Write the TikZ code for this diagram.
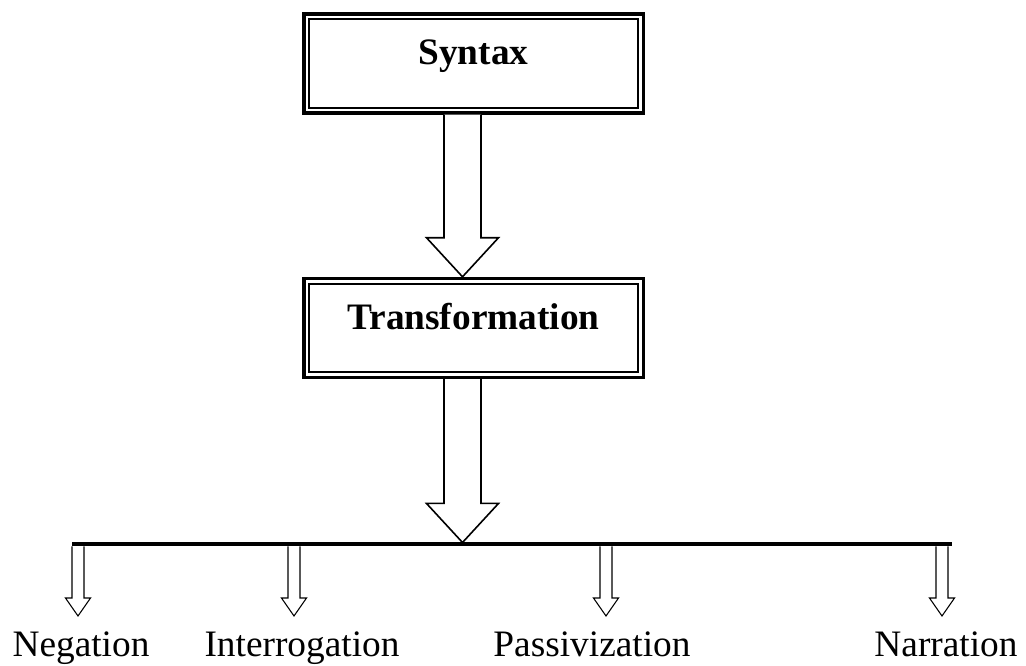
\documentclass[tikz,border=0pt]{standalone}
\usepackage{fontspec}
\setmainfont{Liberation Serif}
\usetikzlibrary{calc,positioning}

\tikzset{
    dblbox/.style={draw, line width=2.6pt, inner sep=0pt, minimum width=254.6pt,
        text height=38pt, text depth=36.2pt, font=\fontsize{28}{32}\selectfont\bfseries},
    bigarr/.style={draw, fill=white, line width=1.2pt, line join=miter},
    smallarr/.style={draw, fill=white, line width=0.8pt, line join=miter},
    leaf/.style={anchor=base, inner sep=0pt, font=\fontsize{28}{32}\selectfont}
}
\newcommand{\hollowarrow}[6]{%
    \draw[#6] let \p1=(#1), \p2=(#2) in
        ({\x2-#3},{\y1}) -- ({\x2-#3},{\y2+#5}) -- ({\x2-#4},{\y2+#5}) -- (\x2,\y2)
        -- ({\x2+#4},{\y2+#5}) -- ({\x2+#3},{\y2+#5}) -- ({\x2+#3},{\y1});
}

\begin{document}
\begin{tikzpicture}[x=0.75pt,y=-0.75pt]
    \useasboundingbox (0,0) rectangle (1026,666);

    \node[dblbox] (syn) at (473.5,63.5) {Syntax};
    \node[dblbox] (trans) at (473.5,328) {Transformation};
    \foreach \b in {syn,trans}
        \draw[line width=1.5pt] ([shift={(5.2pt,-5.2pt)}]\b.north west)
            rectangle ([shift={(-5.2pt,5.2pt)}]\b.south east);

    \coordinate (ax) at (462.5,0);
    \coordinate (barL) at (72,544.5);
    \coordinate (barR) at (952,544.5);
    \coordinate (bartop) at (462.5,542.5);

    \hollowarrow{syn.south -| ax}{trans.north -| ax}{13.9pt}{27pt}{29.3pt}{bigarr}
    \hollowarrow{trans.south -| ax}{bartop}{13.9pt}{27pt}{29.3pt}{bigarr}
    \draw[line width=3pt] (barL) -- (barR);

    \node[leaf] (neg) at (81,657) {Negation};
    \node[leaf] (intr) at (302,657) {Interrogation};
    \node[leaf] (pass) at (592,657) {Passivization};
    \node[leaf] (narr) at (946,657) {Narration};

    \foreach \pos in {78,294,606,942}{
        \hollowarrow{\pos,546.5}{\pos,616}{4.5pt}{9.4pt}{13.5pt}{smallarr}
    }
\end{tikzpicture}
\end{document}
